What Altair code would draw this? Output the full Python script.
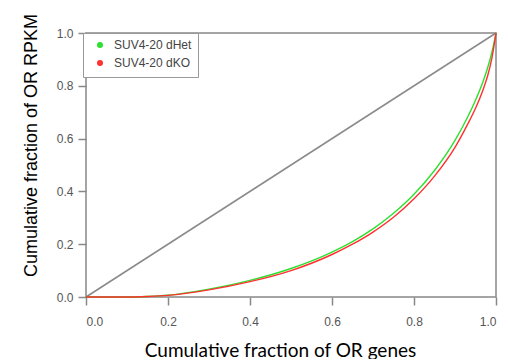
import altair as alt
import pandas as pd

series_names = ["SUV4-20 dHet", "SUV4-20 dKO"]
series_colors = ["#2ee02e", "#ff3030"]

x_vals = [0.0, 0.1, 0.15, 0.2, 0.3, 0.4, 0.5, 0.6, 0.65, 0.7, 0.75, 0.8, 0.85, 0.9, 0.93, 0.95, 0.97, 0.98, 0.99, 1.0]
dhet = [0.0, 0.0, 0.002, 0.007, 0.03, 0.063, 0.108, 0.17, 0.21, 0.258, 0.317, 0.389, 0.479, 0.593, 0.679, 0.745, 0.823, 0.87, 0.927, 1.0]
dko = [0.0, 0.0, 0.002, 0.006, 0.027, 0.058, 0.10, 0.161, 0.20, 0.246, 0.302, 0.372, 0.458, 0.567, 0.652, 0.715, 0.792, 0.84, 0.905, 1.0]

diag_x = [0.0, 1.0]
diag_y = [0.0, 1.0]

tick_vals = [0.0, 0.2, 0.4, 0.6, 0.8, 1.0]

rows = []
for name, ys in zip(series_names, [dhet, dko]):
    for xv, yv in zip(x_vals, ys):
        rows.append({"x": xv, "y": yv, "series": name})
df = pd.DataFrame(rows)
diag_df = pd.DataFrame({"x": diag_x, "y": diag_y})

xscale = alt.Scale(domain=[0, 1], nice=False, zero=False)
yscale = alt.Scale(domain=[0, 1], nice=False, zero=False)

xaxis = alt.Axis(
    title="Cumulative fraction of OR genes",
    values=tick_vals, format=".1f", grid=False, domain=False,
    tickColor="#888888", tickWidth=1.5, tickSize=8,
    labelColor="#555555", labelFont="Liberation Sans", labelFontSize=12,
    labelPadding=11,
    titleFont="Lato", titleFontSize=19, titleFontWeight="normal",
    titleColor="#000000", titleX=194, titleY=59,
    titleBaseline="alphabetic", titleAlign="center",
)
yaxis = alt.Axis(
    title="Cumulative fraction of OR RPKM",
    values=tick_vals, format=".1f", grid=False, domain=False,
    tickColor="#888888", tickWidth=1.5, tickSize=8,
    labelColor="#555555", labelFont="Liberation Sans", labelFontSize=12,
    labelPadding=5,
    titleFont="Liberation Sans", titleFontSize=18, titleFontWeight="normal",
    titleColor="#000000", titleX=-50, titleY=112, titleAngle=270,
    titleBaseline="alphabetic", titleAlign="center",
)

diag = alt.Chart(diag_df).mark_line(color="#8a8a8a", strokeWidth=1.5).encode(
    x=alt.X("x:Q", scale=xscale, axis=xaxis),
    y=alt.Y("y:Q", scale=yscale, axis=yaxis),
)

curves = alt.Chart(df).mark_line(strokeWidth=1.4, interpolate="monotone").encode(
    x=alt.X("x:Q", scale=xscale),
    y=alt.Y("y:Q", scale=yscale),
    color=alt.Color(
        "series:N",
        scale=alt.Scale(domain=series_names, range=series_colors),
        legend=alt.Legend(
            title=None, orient="none", legendX=-3, legendY=0,
            symbolType="circle", symbolSize=8, symbolStrokeWidth=3.2,
            symbolOffset=5,
            labelFont="Liberation Sans", labelFontSize=12, labelColor="#444444",
            strokeColor="#999999", fillColor="white", padding=6,
            rowPadding=2, labelOffset=8, cornerRadius=0,
        ),
    ),
    order=alt.Order("series:N"),
)

chart = (
    alt.layer(diag, curves)
    .properties(
        width=410, height=264,
        autosize=alt.AutoSizeParams(type="none"),
        padding={"left": 78, "top": 25, "right": 4, "bottom": 62},
    )
    .configure_view(stroke="#888888", strokeWidth=1.5)
)

chart.save("out.html", embed_options={"renderer": "svg", "actions": False})
